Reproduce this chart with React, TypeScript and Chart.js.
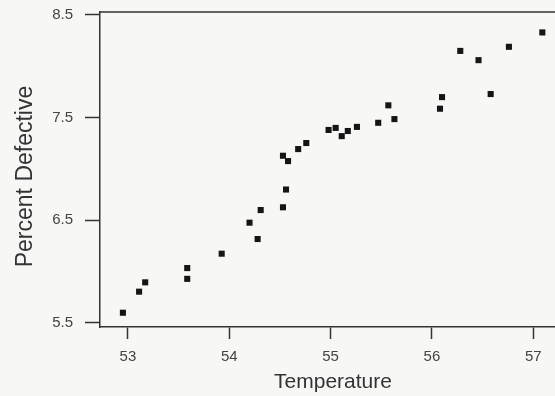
import React, { useEffect, useRef } from "react";
import { Chart, registerables } from "chart.js";

Chart.register(...registerables);

const temperature = [
  52.95, 53.11, 53.17, 53.585, 53.585, 53.925, 54.2, 54.28, 54.31, 54.53,
  54.56, 54.53, 54.58, 54.68, 54.76, 54.98, 55.05, 55.11, 55.17, 55.26,
  55.47, 55.57, 55.63, 56.08, 56.1, 56.28, 56.46, 56.58, 56.76, 57.09,
];
const percentDefective = [
  5.6, 5.805, 5.896, 6.035, 5.93, 6.175, 6.477, 6.318, 6.6, 6.627,
  6.8, 7.129, 7.077, 7.194, 7.253, 7.38, 7.4, 7.32, 7.37, 7.41,
  7.45, 7.62, 7.486, 7.587, 7.7, 8.15, 8.06, 7.73, 8.19, 8.33,
];
const xTicks = [53, 54, 55, 56, 57];
const yTicks = [5.5, 6.5, 7.5, 8.5];
const xTitle = "Temperature";
const yTitle = "Percent Defective";

const FONT = "Liberation Sans, Arial, sans-serif";

const decorations = {
  id: "decorations",
  afterDraw(chart: any) {
    const { ctx, chartArea } = chart;
    ctx.save();
    ctx.strokeStyle = "#333";
    ctx.lineWidth = 1.5;
    ctx.beginPath();
    ctx.moveTo(chartArea.left - 1, chartArea.top);
    ctx.lineTo(chart.width, chartArea.top);
    ctx.stroke();

    ctx.fillStyle = "#333";
    ctx.textAlign = "center";
    ctx.textBaseline = "alphabetic";
    ctx.font = `21px ${FONT}`;
    ctx.fillText(xTitle, 333, chart.height - 8);

    ctx.translate(32, 176.5);
    ctx.rotate(-Math.PI / 2);
    ctx.font = `23px ${FONT}`;
    ctx.fillText(yTitle, 0, 0);
    ctx.restore();
  },
};

export default function App() {
  const ref = useRef<HTMLCanvasElement | null>(null);
  useEffect(() => {
    document.body.style.margin = "0";
    document.body.style.background = "#f7f7f6";
    const chart = new Chart(ref.current as HTMLCanvasElement, {
      type: "scatter",
      data: {
        datasets: [
          {
            data: temperature.map((t, i) => ({ x: t, y: percentDefective[i] })),
            pointStyle: "rect",
            pointRadius: 4.3,
            backgroundColor: "#151515",
            borderColor: "#151515",
            borderWidth: 0,
          },
        ],
      },
      options: {
        animation: false,
        responsive: false,
        layout: { autoPadding: false, padding: { top: 12, right: 0, left: 0, bottom: 0 } },
        plugins: { legend: { display: false }, tooltip: { enabled: false } },
        scales: {
          x: {
            type: "linear",
            min: 52.724,
            max: 57.215,
            afterBuildTicks: (s: any) => {
              s.ticks = xTicks.map((v) => ({ value: v }));
            },
            afterFit: (s: any) => {
              s.height = 69;
              s.paddingLeft = 0;
              s.paddingRight = 0;
            },
            grid: {
              drawOnChartArea: false,
              drawTicks: true,
              tickLength: 12,
              tickWidth: 1.5,
              tickColor: "#333",
            },
            border: { display: true, color: "#333", width: 1.5 },
            ticks: {
              color: "#444",
              font: { family: FONT, size: 15 },
              padding: 9,
              maxRotation: 0,
              callback: (v: any) => String(v),
            },
            title: { display: false },
          },
          y: {
            type: "linear",
            min: 5.461,
            max: 8.529,
            afterBuildTicks: (s: any) => {
              s.ticks = yTicks.map((v) => ({ value: v }));
            },
            afterFit: (s: any) => {
              s.width = 100;
              s.paddingTop = 0;
              s.paddingBottom = 0;
            },
            grid: {
              drawOnChartArea: false,
              drawTicks: true,
              tickLength: 15,
              tickWidth: 1.5,
              tickColor: "#333",
            },
            border: { display: true, color: "#333", width: 1.5 },
            ticks: {
              color: "#444",
              font: { family: FONT, size: 15 },
              padding: 12,
              callback: (v: any) => Number(v).toFixed(1),
            },
            title: { display: false },
          },
        },
      },
      plugins: [decorations],
    });
    return () => chart.destroy();
  }, []);
  return (
    <div style={{ width: 555, height: 396, background: "#f7f7f6" }}>
      <canvas ref={ref} width={555} height={396} />
    </div>
  );
}
